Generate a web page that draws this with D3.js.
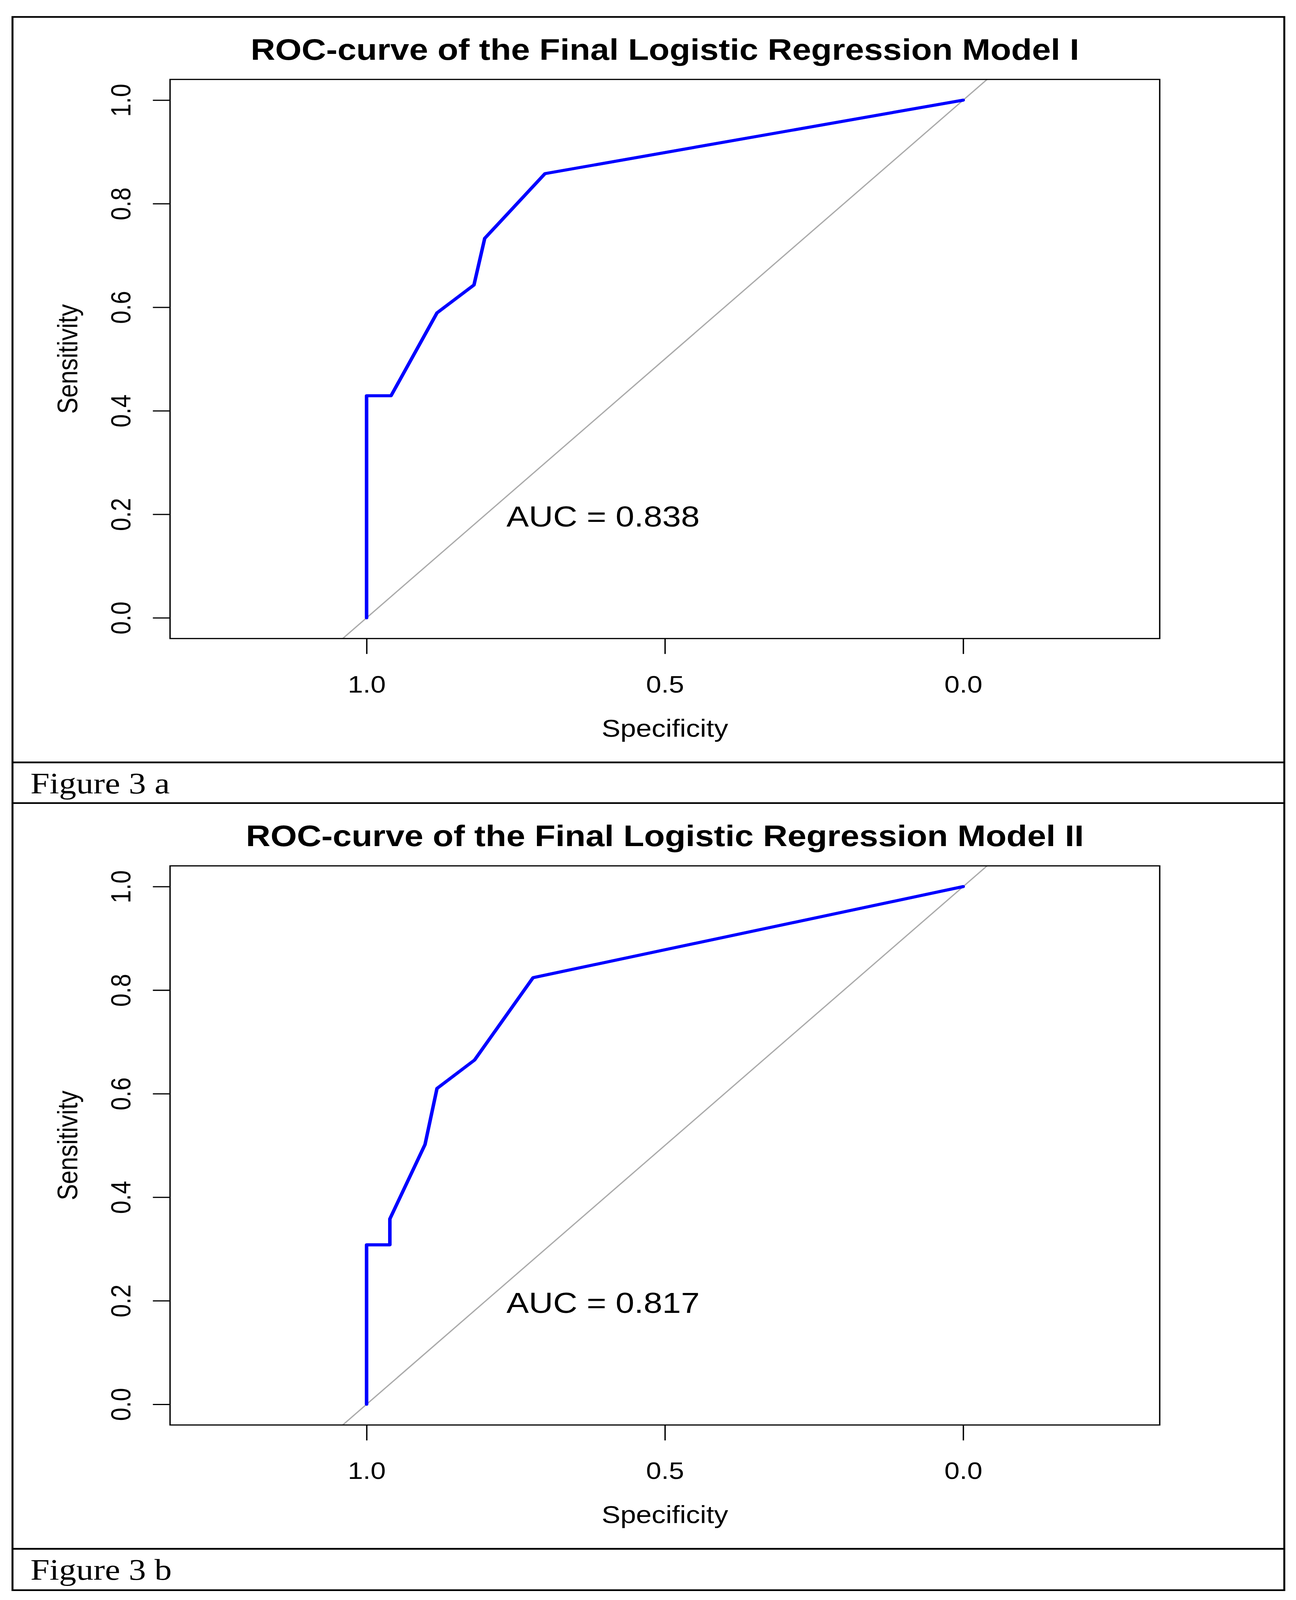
<!DOCTYPE html>
<html>
<head>
<meta charset="utf-8">
<script src="https://cdn.jsdelivr.net/npm/d3@7/dist/d3.min.js"></script>
<style>
  html, body { margin: 0; padding: 0; background: #fff; overflow: hidden; }
  svg { display: block; width: 100vw; height: 100vh; }
</style>
</head>
<body>
<svg id="svg"></svg>
<script>
var width = 3319, height = 4722;

// ROC points: specificity / sensitivity pairs
var specA = [1.0, 1.0, 0.959, 0.882, 0.820, 0.802, 0.701, 0.0];
var sensA = [0.0, 0.429, 0.429, 0.589, 0.643, 0.733, 0.858, 1.0];

var specB = [1.0, 1.0, 0.961, 0.961, 0.902, 0.882, 0.819, 0.721, 0.0];
var sensB = [0.0, 0.308, 0.308, 0.358, 0.502, 0.610, 0.665, 0.824, 1.0];

var titles = ["ROC-curve of the Final Logistic Regression Model I",
              "ROC-curve of the Final Logistic Regression Model II"];
var aucs = [0.838, 0.817];
var captions = ["Figure 3 a", "Figure 3 b"];

var yticks = [0.0, 0.2, 0.4, 0.6, 0.8, 1.0];
var xticks = [1.0, 0.5, 0.0];

// layout (px, in the 3319 x 4722 page)
var frame = { left: 32, right: 3289, top: 50, bottom: 4693 };
var step = 2321;               // vertical distance between the two panels
var box = { left: 435.5, right: 2970, top: 234.4, bottom: 1884.5 };
var sansf = "'Liberation Sans', Arial, Helvetica, sans-serif";
var seriff = "'Liberation Serif', 'Times New Roman', serif";

// the drawing is done in page units and stretched to whatever the viewport is
var svg = d3.select("#svg")
  .attr("viewBox", "0 0 " + width + " " + height)
  .attr("preserveAspectRatio", "none");

svg.append("rect")
  .attr("width", width)
  .attr("height", height)
  .attr("fill", "#fff");

function drawpanel(i, spec, sens) {
  var off = i * step;
  var g = svg.append("g").attr("transform", "translate(0," + off + ")");

  // R style: ylim 0..1 with 4% padding, asp = 1, x reversed
  var y = d3.scaleLinear().domain([-0.04, 1.04]).range([box.bottom, box.top]);
  var k = (box.bottom - box.top) / 1.08;
  var half = (box.right - box.left) / 2 / k;
  var x = d3.scaleLinear().domain([0.5 + half, 0.5 - half]).range([box.left, box.right]);

  g.append("clipPath")
    .attr("id", "clip" + i)
    .append("rect")
    .attr("x", box.left)
    .attr("y", box.top)
    .attr("width", box.right - box.left)
    .attr("height", box.bottom - box.top);

  // title
  g.append("text")
    .attr("x", (box.left + box.right) / 2)
    .attr("y", 176.3)
    .attr("text-anchor", "middle")
    .style("font-family", sansf)
    .style("font-weight", "bold")
    .style("font-size", "87px")
    .text(titles[i]);

  // identity line
  var dom = x.domain();
  var diag = [[dom[0], 1 - dom[0]], [dom[1], 1 - dom[1]]];
  g.append("path")
    .attr("clip-path", "url(#clip" + i + ")")
    .attr("d", d3.line().x(d => x(d[0])).y(d => y(d[1]))(diag))
    .attr("fill", "none")
    .attr("stroke", "#aaaaaa")
    .attr("stroke-width", 3.5);

  // roc curve
  var pts = spec.map((s, j) => [s, sens[j]]);
  g.append("path")
    .attr("clip-path", "url(#clip" + i + ")")
    .attr("d", d3.line().x(d => x(d[0])).y(d => y(d[1]))(pts))
    .attr("fill", "none")
    .attr("stroke", "#0000ff")
    .attr("stroke-width", 9)
    .attr("stroke-linejoin", "round")
    .attr("stroke-linecap", "round");

  // auc label
  g.append("text")
    .attr("x", x(0.7656))
    .attr("y", y(0.1765))
    .style("font-family", sansf)
    .style("font-size", "86px")
    .text("AUC = " + aucs[i].toFixed(3));

  // box
  g.append("rect")
    .attr("x", box.left)
    .attr("y", box.top)
    .attr("width", box.right - box.left)
    .attr("height", box.bottom - box.top)
    .attr("fill", "none")
    .attr("stroke", "#000")
    .attr("stroke-width", 3.5);

  // y axis
  var ya = g.append("g")
    .attr("transform", "translate(" + box.left + ",0)")
    .call(d3.axisLeft(y).tickValues(yticks).tickFormat(d3.format(".1f")).tickSize(44));
  ya.select(".domain").remove();
  ya.selectAll("line").attr("stroke", "#000").attr("stroke-width", 3.5);
  ya.selectAll("text")
    .attr("x", 0)
    .attr("y", -(box.left - 333.6))
    .attr("dy", null)
    .attr("transform", "rotate(-90)")
    .attr("text-anchor", "middle")
    .attr("fill", "#000")
    .style("font-family", sansf)
    .style("font-size", "70px");

  // x axis
  var xa = g.append("g")
    .attr("transform", "translate(0," + box.bottom + ")")
    .call(d3.axisBottom(x).tickValues(xticks).tickFormat(d3.format(".1f")).tickSize(45.5));
  xa.select(".domain").remove();
  xa.selectAll("line").attr("stroke", "#000").attr("stroke-width", 3.5);
  xa.selectAll("text")
    .attr("y", 2043.5 - box.bottom)
    .attr("dy", null)
    .attr("fill", "#000")
    .style("font-family", sansf)
    .style("font-size", "70px");

  // axis titles
  g.append("text")
    .attr("x", (box.left + box.right) / 2)
    .attr("y", 2174)
    .attr("text-anchor", "middle")
    .style("font-family", sansf)
    .style("font-size", "72px")
    .text("Specificity");

  var cy = (box.top + box.bottom) / 2;
  g.append("text")
    .attr("transform", "translate(198," + cy + ") rotate(-90)")
    .attr("text-anchor", "middle")
    .style("font-family", sansf)
    .style("font-size", "72px")
    .text("Sensitivity");

  // caption row of the table
  g.append("text")
    .attr("x", 78)
    .attr("y", 2341)
    .style("font-family", seriff)
    .style("font-size", "88px")
    .text(captions[i]);

  [2250, 2370].forEach(ly => {
    if (i === 1 && ly === 2370) return;
    g.append("line")
      .attr("x1", frame.left).attr("x2", frame.right)
      .attr("y1", ly).attr("y2", ly)
      .attr("stroke", "#000")
      .attr("stroke-width", 5);
  });
}

drawpanel(0, specA, sensA);
drawpanel(1, specB, sensB);

// outer frame
svg.append("rect")
  .attr("x", frame.left)
  .attr("y", frame.top)
  .attr("width", frame.right - frame.left)
  .attr("height", frame.bottom - frame.top)
  .attr("fill", "none")
  .attr("stroke", "#000")
  .attr("stroke-width", 5);
</script>
</body>
</html>
